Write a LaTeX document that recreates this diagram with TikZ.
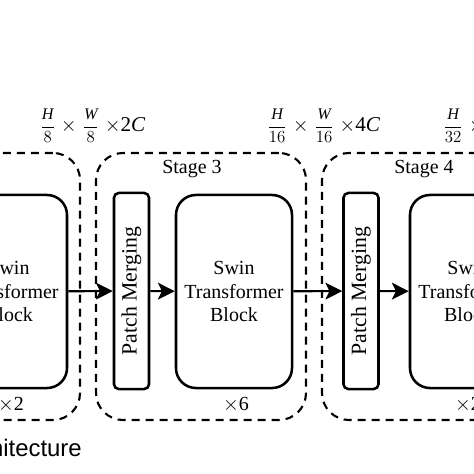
\documentclass[tikz,border=0pt]{standalone}
\usepackage{amsmath}
\usepackage{fontspec}
\setmainfont{Liberation Serif}
\newfontfamily\captionfont{Liberation Sans}
\usetikzlibrary{positioning, arrows.meta, shapes}
\tikzstyle{arrow} = [line width=1.5pt,-{Stealth[length=0.42cm,width=0.42cm,inset=0.1cm]}]
\newcommand{\sizefrac}[2]{{\fontsize{11.5}{12}\selectfont$\dfrac{\mathit{#1}}{#2}$}}

\begin{document}
\begin{tikzpicture}[x=0.025cm, y=-0.025cm]
                \tikzstyle{every node}=[font=\fontsize{14.2}{17}\selectfont]
                \tikzstyle{stage} = [draw=black, dashed, line width=1.5pt, dash pattern=on 0.2cm off 0.15cm, rounded corners=0.68cm, minimum width=5.25cm, minimum height=6.675cm]
                \tikzstyle{swin} = [draw=black, line width=1.8pt, rounded corners=0.5cm, minimum width=2.9cm, minimum height=4.825cm, align=center]
                \tikzstyle{merge} = [draw=black, line width=1.8pt, rounded corners=0.12cm, minimum width=0.875cm, minimum height=4.9cm]
                \tikzstyle{dims} = [anchor=west, inner sep=0pt, font=\fontsize{15}{17}\selectfont]

                \useasboundingbox (0,0) rectangle (474,474);
                \clip (0,0) rectangle (474,474);

                % stage frames
                \node[stage](s2) at (-25,286.5) {};
                \node[stage](s3) at (201,286.5) {};
                \node[stage](s4) at (427,286.5) {};
                \node(t3) at (192,169) {Stage 3};
                \node(t4) at (424,169) {Stage 4};

                % blocks
                \node[swin](b2) at (9,291.5) {Swin\\Transformer\\Block};
                \node[merge](m3) at (131.5,291) {};
                \node[rotate=90, font=\fontsize{15.5}{18}\selectfont] at (m3) {Patch Merging};
                \node[swin](b3) at (234,291.5) {Swin\\Transformer\\Block};
                \node[merge](m4) at (361,291) {};
                \node[rotate=90, font=\fontsize{15.5}{18}\selectfont] at (m4) {Patch Merging};
                \node[swin](b4) at (468,291.5) {Swin\\Transformer\\Block};

                \draw[arrow] (b2) -- (m3);
                \draw[arrow] (m3) -- (b3);
                \draw[arrow] (b3) -- (m4);
                \draw[arrow] (m4) -- (b4);

                % repeats
                \node(r2) at (11,405) {$\times$2};
                \node(r3) at (236,405) {$\times$6};
                \node(r4) at (468,405) {$\times$2};

                % feature sizes
                \node[dims](d2) at (40,126) {\sizefrac{H}{8}$\;\times\;$\sizefrac{W}{8}$\;\times$2\textit{C}};
                \node[dims](d3) at (267,126) {\sizefrac{H}{16}$\;\times\;$\sizefrac{W}{16}$\;\times$4\textit{C}};
                \node[dims](d4) at (443,126) {\sizefrac{H}{32}$\;\times\;$\sizefrac{W}{32}$\;\times$8\textit{C}};

                \node[anchor=base east, inner sep=0pt, font=\captionfont\fontsize{17}{20}\selectfont](cap) at (82,456) {Architecture};

        \end{tikzpicture}
\end{document}
